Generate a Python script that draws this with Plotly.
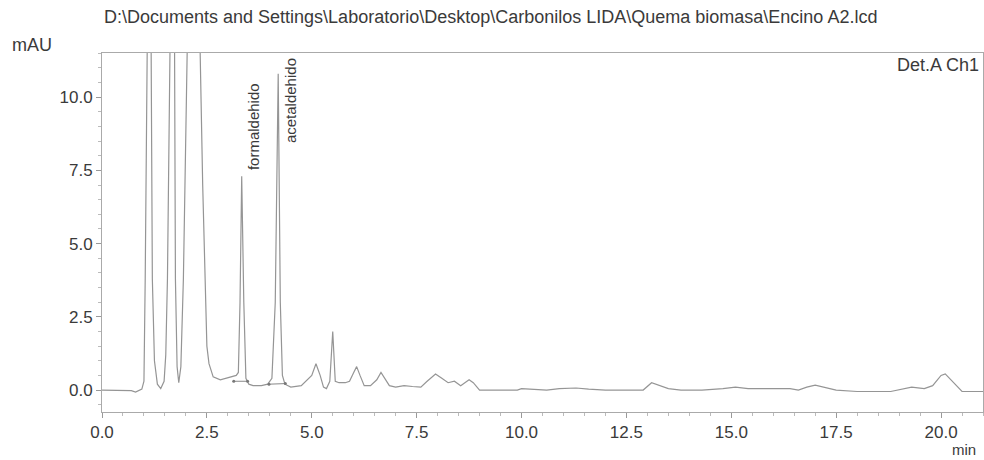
import plotly.graph_objects as go

# Chromatogram trace (time in min, absorbance in mAU)
time_min = [0.0, 0.5, 0.7, 0.8, 0.9, 0.95, 1.0, 1.03, 1.08, 1.14, 1.17, 1.2, 1.25, 1.32, 1.4,
            1.48, 1.52, 1.56, 1.62, 1.68, 1.73, 1.75, 1.79, 1.83, 1.88, 1.94, 2.03, 2.1, 2.2,
            2.3, 2.34, 2.4, 2.46, 2.5, 2.55, 2.65, 2.82, 2.95, 3.1, 3.2, 3.25, 3.29, 3.33,
            3.38, 3.43, 3.5, 3.6, 3.8, 3.95, 4.05, 4.13, 4.2, 4.25, 4.3, 4.36, 4.5, 4.75,
            4.9, 5.0, 5.1, 5.2, 5.28, 5.35, 5.43, 5.5, 5.56, 5.65, 5.8, 5.9, 6.0, 6.07, 6.15,
            6.25, 6.4, 6.55, 6.65, 6.75, 6.85, 7.0, 7.2, 7.4, 7.6, 7.75, 7.95, 8.1, 8.25,
            8.4, 8.55, 8.75, 8.85, 9.0, 9.5, 9.9, 10.0, 10.2, 10.6, 10.9, 11.3, 11.6, 12.0,
            12.5, 12.9, 13.1, 13.3, 13.5, 13.8, 14.3, 14.8, 15.1, 15.4, 16.0, 16.4, 16.6,
            16.8, 17.0, 17.2, 17.5, 18.0, 18.8, 19.3, 19.6, 19.8, 20.0, 20.1, 20.3, 20.5, 21.0]
absorbance_mau = [0.0, 0.0, -0.02, -0.07, 0.0, 0.03, 0.3, 3.8, 12, 30, 12, 3.8, 1.0, 0.2, 0.05,
                  0.3, 1.2, 3.8, 11.5, 30, 11.5, 3.8, 0.8, 0.25, 0.8, 3.8, 11.5, 25, 30,
                  20, 11.5, 7.0, 3.8, 1.5, 0.9, 0.45, 0.35, 0.4, 0.45, 0.5, 0.6, 3.0, 7.3,
                  3.0, 0.4, 0.2, 0.15, 0.15, 0.2, 0.4, 3.0, 10.8, 3.0, 0.5, 0.2, 0.1, 0.15,
                  0.35, 0.5, 0.9, 0.5, 0.1, 0.05, 0.3, 2.0, 0.3, 0.25, 0.25, 0.3, 0.6, 0.8, 0.5,
                  0.15, 0.15, 0.35, 0.6, 0.35, 0.15, 0.1, 0.15, 0.12, 0.1, 0.3, 0.55, 0.4, 0.25,
                  0.3, 0.15, 0.35, 0.25, 0.0, 0.0, 0.0, 0.05, 0.03, 0.0, 0.05, 0.07, 0.03, 0.0,
                  0.0, 0.0, 0.25, 0.15, 0.05, 0.0, 0.0, 0.05, 0.1, 0.05, 0.05, 0.05, 0.0,
                  0.1, 0.17, 0.1, 0.0, -0.05, -0.05, 0.1, 0.05, 0.15, 0.5, 0.55, 0.25, -0.05, -0.05]

# Integration baselines of the named peaks
form_base_t = [3.14, 3.47]
form_base_y = [0.3, 0.3]
acet_base_t = [3.98, 4.37]
acet_base_y = [0.2, 0.22]

peak_names = ["formaldehido", "acetaldehido"]
peak_label_t = [3.6, 4.48]
peak_label_y = [8.98, 9.9]

title_text = "D:\\Documents and Settings\\Laboratorio\\Desktop\\Carbonilos LIDA\\Quema biomasa\\Encino A2.lcd"

FONT = "Liberation Sans, Arial, sans-serif"
TXT = "#3a3a3a"

W, H = 984, 460
ML, MR, MT, MB = 102, 1, 53, 48
PW, PH = W - ML - MR, H - MT - MB


def px_x(px):
    return (px - ML) / PW


def px_y(py):
    return (H - MB - py) / PH


fig = go.Figure()
fig.add_trace(go.Scatter(x=time_min, y=absorbance_mau, mode="lines",
                         line=dict(color="#959595", width=1.2), showlegend=False, hoverinfo="skip"))
for bt, by in [(form_base_t, form_base_y), (acet_base_t, acet_base_y)]:
    fig.add_trace(go.Scatter(x=bt, y=by, mode="lines+markers",
                             line=dict(color="#888888", width=1),
                             marker=dict(size=3, color="#777777"),
                             showlegend=False, hoverinfo="skip"))

for name, t, y in zip(peak_names, peak_label_t, peak_label_y):
    fig.add_annotation(x=t, y=y, xref="x", yref="y", text=name, textangle=-90,
                       showarrow=False, font=dict(family=FONT, size=15, color=TXT))

fig.add_annotation(x=px_x(490), y=px_y(17), xref="paper", yref="paper", text=title_text,
                   showarrow=False, xanchor="center", yanchor="middle",
                   font=dict(family=FONT, size=18, color=TXT))
fig.add_annotation(x=px_x(32), y=px_y(45), xref="paper", yref="paper",
                   text="mAU", showarrow=False, xanchor="center", yanchor="middle",
                   font=dict(family=FONT, size=18, color=TXT))
fig.add_annotation(x=px_x(964), y=px_y(449), xref="paper", yref="paper",
                   text="min", showarrow=False, xanchor="center", yanchor="middle",
                   font=dict(family=FONT, size=15, color=TXT))
fig.add_annotation(x=px_x(981), y=px_y(65), xref="paper", yref="paper",
                   text="Det.A Ch1", showarrow=False, xanchor="right", yanchor="middle",
                   font=dict(family=FONT, size=18, color=TXT))

fig.update_layout(
    width=W, height=H,
    margin=dict(l=ML, r=MR, t=MT, b=MB),
    paper_bgcolor="white", plot_bgcolor="white",
    font=dict(family=FONT, size=17, color=TXT),
    showlegend=False,
)

axis_style = dict(dtick=2.5, tick0=0, tickformat=".1f",
                  showgrid=False, zeroline=False, showline=True, linecolor="#aaaaaa",
                  linewidth=1, mirror=True, ticks="outside", ticklen=5, tickcolor="#999999",
                  minor=dict(dtick=0.5, ticks="outside", ticklen=3, tickcolor="#bbbbbb"),
                  tickfont=dict(family=FONT, size=17, color=TXT))
fig.update_xaxes(range=[0, 21.0], **axis_style)
fig.update_yaxes(range=[-0.75, 11.51], **axis_style)

fig.write_html("out.html")
